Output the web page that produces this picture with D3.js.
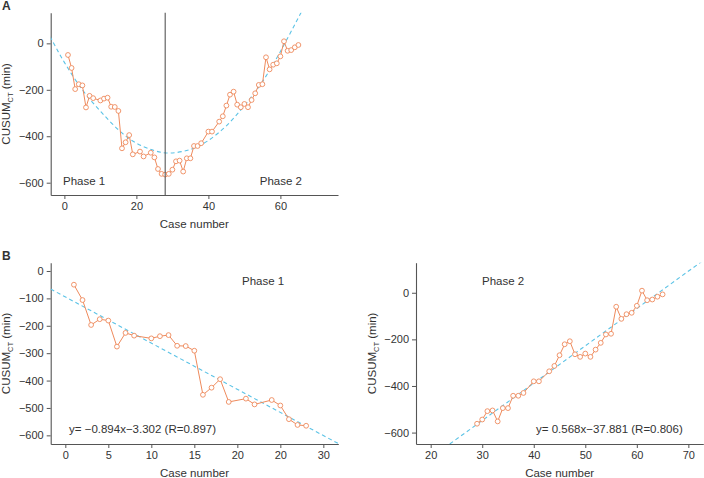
<!DOCTYPE html>
<html>
<head>
<meta charset="utf-8">
<script src="https://cdn.jsdelivr.net/npm/d3@7"></script>
<style>
  html, body { margin: 0; padding: 0; background: #fff; }
  svg { display: block; }
  text { font-family: "Liberation Sans", Arial, Helvetica, sans-serif; fill: #333; }
</style>
</head>
<body>
<svg id="chart" width="704" height="478"></svg>
<script>
// ---------------- DATA ----------------
const phase1Cases = [1, 2, 3, 4, 5, 6, 7, 8, 10, 11, 12, 13, 14, 15, 16, 17, 18, 19, 21, 22, 24, 25, 26, 27, 28];
const phase1Cusum = [-50, -106, -197, -176, -181, -276, -226, -236, -246, -238, -234, -273, -274, -291, -452, -426, -395, -478, -466, -487, -471, -491, -541, -562, -565];
const phase2Cases = [29, 30, 31, 32, 33, 34, 35, 36, 37, 38, 40, 41, 43, 44, 45, 46, 47, 48, 49, 50, 51, 52, 53, 54, 55, 56, 57, 58, 59, 60, 61, 62, 63, 64, 65];
const phase2Cusum = [-562, -544, -508, -505, -552, -495, -495, -442, -442, -430, -380, -380, -337, -314, -268, -221, -208, -264, -275, -261, -275, -244, -215, -179, -176, -60, -112, -92, -86, -56, 9, -32, -29, -17, -7];

// dashed trend curve of panel A
const trendX = [-4, 0, 5, 10, 15, 20, 25, 29.4, 35, 40, 45, 50, 55, 60, 66];
const trendY = [30, -82, -200, -292, -372, -430, -462, -472, -457, -418, -355, -268, -165, -35, 140];

// dashed regression lines of panel B (end points)
const fit1X = [-1.7, 31.74];
const fit1Y = [-66, -630];
const fit2X = [23.7, 72.9];
const fit2Y = [-649, 139];

const phaseSplit = 28;

const aXTicks = [0, 20, 40, 60];
const aYTicks = [0, -200, -400, -600];
const b1XTicks = [0, 5, 10, 15, 20, 25, 30];
const b1XTickLabels = ["0", "5", "10", "15", "20", "20", "30"];
const b1YTicks = [0, -100, -200, -300, -400, -500, -600];
const b2XTicks = [20, 30, 40, 50, 60, 70];
const b2YTicks = [0, -200, -400, -600];

const eq1Text = "y= \u22120.894x\u22123.302 (R=0.897)";
const eq2Text = "y= 0.568x\u221237.881 (R=0.806)";

// ---------------- STYLE ----------------
const ORANGE = "#EE8A5C";
const BLUE = "#5CC3E6";
const AXIS = "#555";
const fmt = d3.format("d");

const svg = d3.select("#chart");

function zip(xs, ys) { return xs.map((x, i) => [x, ys[i]]); }

function panel(opt) {
  const g = svg.append("g");
  const x = d3.scaleLinear().domain(opt.xDomain).range(opt.xRange);
  const y = d3.scaleLinear().domain(opt.yDomain).range(opt.yRange);

  const clipId = "clip" + opt.id;
  svg.append("clipPath").attr("id", clipId).append("rect")
    .attr("x", opt.xRange[0]).attr("y", opt.yRange[1])
    .attr("width", opt.xRange[1] - opt.xRange[0])
    .attr("height", opt.yRange[0] - opt.yRange[1]);

  // axes
  const xAxis = d3.axisBottom(x).tickValues(opt.xTicks).tickSizeInner(4).tickSizeOuter(0).tickPadding(3)
    .tickFormat((d, i) => opt.xTickLabels ? opt.xTickLabels[i] : fmt(d));
  const yAxis = d3.axisLeft(y).tickValues(opt.yTicks).tickSizeInner(4).tickSizeOuter(0).tickPadding(3)
    .tickFormat(d => fmt(d));

  const gx = g.append("g").attr("transform", `translate(0,${opt.yRange[0]})`).call(xAxis);
  const gy = g.append("g").attr("transform", `translate(${opt.xRange[0]},0)`).call(yAxis);
  [gx, gy].forEach(a => {
    a.selectAll("path.domain").attr("stroke", AXIS).attr("stroke-width", 1.1);
    a.selectAll(".tick line").attr("stroke", AXIS).attr("stroke-width", 1);
    a.selectAll(".tick text").attr("font-size", 11).attr("fill", "#333")
      .attr("font-family", "'Liberation Sans', Arial, sans-serif");
  });

  // axis titles
  g.append("text")
    .attr("x", (opt.xRange[0] + opt.xRange[1]) / 2 + (opt.xTitleDx || 0))
    .attr("y", opt.yRange[0] + 33)
    .attr("text-anchor", "middle").attr("font-size", 11.5)
    .text("Case number");

  const yt = g.append("text")
    .attr("transform", `translate(${opt.yTitleX},${(opt.yRange[0] + opt.yRange[1]) / 2}) rotate(-90)`)
    .attr("text-anchor", "middle").attr("font-size", 11.5);
  yt.append("tspan").text("CUSUM");
  yt.append("tspan").attr("font-size", 7.5).attr("dy", 3).text("CT");
  yt.append("tspan").attr("dy", -3).text(" (min)");

  const plot = g.append("g").attr("clip-path", `url(#${clipId})`);
  return { g, plot, x, y };
}

function drawSeries(p, cases, vals) {
  const pts = zip(cases, vals);
  p.plot.append("path").datum(pts)
    .attr("fill", "none").attr("stroke", ORANGE).attr("stroke-width", 1)
    .attr("d", d3.line().x(d => p.x(d[0])).y(d => p.y(d[1])));
  p.plot.selectAll(null).data(pts).enter().append("circle")
    .attr("cx", d => p.x(d[0])).attr("cy", d => p.y(d[1])).attr("r", 2.4)
    .attr("fill", "#fff").attr("stroke", ORANGE).attr("stroke-width", 0.9);
}

function drawDashed(p, xs, ys, curve) {
  p.plot.append("path").datum(zip(xs, ys))
    .attr("fill", "none").attr("stroke", BLUE).attr("stroke-width", 1.1)
    .attr("stroke-dasharray", "4,3")
    .attr("d", d3.line().curve(curve || d3.curveLinear).x(d => p.x(d[0])).y(d => p.y(d[1])));
}

// ---------------- PANEL A ----------------
const pA = panel({
  id: "A",
  xDomain: [-3.8, 76], xRange: [50.7, 338],
  yDomain: [-653, 132], yRange: [195, 12.7],
  xTicks: aXTicks, yTicks: aYTicks, yTitleX: 10
});
drawDashed(pA, trendX, trendY, d3.curveNatural);
drawSeries(pA, phase1Cases.concat(phase2Cases), phase1Cusum.concat(phase2Cusum));
pA.g.append("line")
  .attr("x1", pA.x(phaseSplit)).attr("x2", pA.x(phaseSplit))
  .attr("y1", 12.7).attr("y2", 195)
  .attr("stroke", "#555").attr("stroke-width", 1.1);
pA.g.append("text").attr("x", 63).attr("y", 185).attr("font-size", 11.5).text("Phase 1");
pA.g.append("text").attr("x", 302).attr("y", 185).attr("text-anchor", "end").attr("font-size", 11.5).text("Phase 2");
svg.append("text").attr("x", 2).attr("y", 10).attr("font-size", 12).attr("font-weight", "bold").text("A");

// ---------------- PANEL B (Phase 1) ----------------
const pB1 = panel({
  id: "B1",
  xDomain: [-1.7, 31.74], xRange: [50.7, 338.3],
  yDomain: [-631.6, 30.3], yRange: [444, 262.7],
  xTicks: b1XTicks, xTickLabels: b1XTickLabels, yTicks: b1YTicks, yTitleX: 10
});
drawDashed(pB1, fit1X, fit1Y);
drawSeries(pB1, phase1Cases, phase1Cusum);
pB1.g.append("text").attr("x", 242).attr("y", 285).attr("font-size", 11.5).text("Phase 1");
pB1.g.append("text").attr("x", 69).attr("y", 433).attr("font-size", 11.5).text(eq1Text);
svg.append("text").attr("x", 2).attr("y", 260).attr("font-size", 12).attr("font-weight", "bold").text("B");

// ---------------- PANEL B (Phase 2) ----------------
const pB2 = panel({
  id: "B2",
  xDomain: [17.15, 72.9], xRange: [416, 703.3],
  yDomain: [-649, 129], yRange: [444, 262.7],
  xTicks: b2XTicks, yTicks: b2YTicks, yTitleX: 376
});
drawDashed(pB2, fit2X, fit2Y);
drawSeries(pB2, phase2Cases, phase2Cusum);
pB2.g.append("text").attr("x", 482).attr("y", 285).attr("font-size", 11.5).text("Phase 2");
pB2.g.append("text").attr("x", 536).attr("y", 433).attr("font-size", 11.5).text(eq2Text);
</script>
</body>
</html>
